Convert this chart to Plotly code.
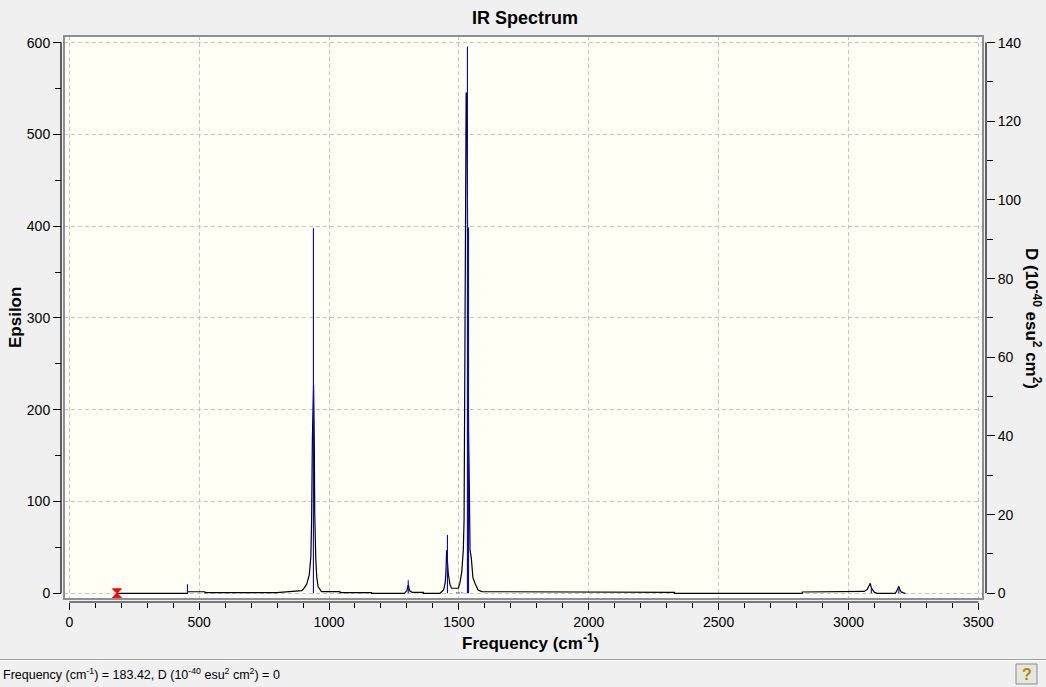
import plotly.graph_objects as go

# ---- data ----
curve_freq = [183, 455, 455.5, 522, 522.5, 645, 645.5, 798, 798.5, 895, 905, 914, 924, 930, 933, 936, 939, 940.5, 943,
              944, 945, 949, 953, 958, 965, 971, 1042, 1042.5, 1164, 1164.5, 1290, 1300, 1304, 1306, 1310, 1320,
              1363, 1363.5, 1427, 1437, 1441, 1447, 1450, 1453, 1455, 1457, 1459, 1466, 1472, 1498, 1504, 1511,
              1517, 1520, 1523, 1526, 1528, 1531, 1534, 1537, 1540, 1543, 1548, 1554, 1562, 1574, 1588, 1838,
              1838.5, 2330, 2330.5, 2822, 2822.5, 3060, 3072, 3080, 3084, 3088, 3094, 3100, 3110, 3180, 3185,
              3190, 3194, 3198, 3203, 3212, 3219]
curve_eps = [0, 0, 1.7, 1.7, 0.7, 0.7, 0, 0, 0.7, 3, 6, 10, 20, 40, 80, 170, 227, 227, 174,
             120, 87, 38, 17, 7, 4, 1.8, 1.8, 0.7, 0.7, 0, 0, 3, 8.5, 8.5, 3, 1.1,
             1.1, 0, 0, 2, 3.6, 11, 22, 47, 40, 30, 22, 9, 5.5, 5.5, 11, 23,
             47, 80, 230, 436, 545, 545, 300, 180, 120, 47, 38, 17, 11, 3.6, 1.8, 1.8,
             1.1, 1.1, 0, 0, 1.4, 2, 4, 8, 10.9, 6, 3, 1, 0, 0, 2,
             5, 7.6, 4, 1.5, 0.5, 0]

stick_freq = [455, 940, 1074, 1305, 1456, 1492, 1500, 1512, 1533, 1537, 3088, 3194]
stick_D = [2.3, 92.8, 0.2, 3.3, 14.8, 0.25, 0.25, 0.25, 139, 93, 1.2, 1.1]

sel_freq = [183.42]
sel_D = [0]

x_ticks = [0, 500, 1000, 1500, 2000, 2500, 3000, 3500]
eps_ticks = [0, 100, 200, 300, 400, 500, 600]
d_ticks = [0, 20, 40, 60, 80, 100, 120, 140]

# ---- layout helpers (pixel -> paper) ----
W, H = 1046, 687
ML, MR, MT, MB = 61, 60, 36, 85
PW, PH = W - ML - MR, H - MT - MB


def px(x):
    return (x - ML) / PW


def py(y):
    return (H - MB - y) / PH


stick_x, stick_y = [], []
for f, d in zip(stick_freq, stick_D):
    stick_x += [f, f, None]
    stick_y += [0, d, None]

fig = go.Figure()
fig.add_trace(go.Scatter(x=curve_freq, y=curve_eps, mode="lines",
                         line=dict(color="black", width=1.2), yaxis="y", hoverinfo="skip"))
fig.add_trace(go.Scatter(x=stick_x, y=stick_y, mode="lines",
                         line=dict(color="#0000ff", width=1.1), yaxis="y2", hoverinfo="skip"))
fig.add_trace(go.Scatter(x=sel_freq, y=sel_D, mode="markers", yaxis="y2",
                         marker=dict(symbol="hourglass", size=9, color="#ff0000",
                                     line=dict(color="#ff0000", width=1))))

tickfont = dict(family="Liberation Sans, Arial, sans-serif", size=14, color="black")
gridcol = "#c4c4c4"

fig.update_layout(
    width=W, height=H,
    margin=dict(l=ML, r=MR, t=MT, b=MB),
    paper_bgcolor="#f0f0f0",
    plot_bgcolor="#fffff6",
    showlegend=False,
    font=dict(family="Liberation Sans, Arial, sans-serif", color="black"),
    title=dict(text="<b>IR Spectrum</b>", x=525 / W, xref="container", xanchor="center",
               y=1 - 18 / H, yref="container", yanchor="middle",
               font=dict(size=18, color="black", family="Liberation Sans, Arial, sans-serif")),
    xaxis=dict(domain=[px(64), px(983)], anchor="free", position=0,
               range=[-20.4, 3518], tickvals=x_ticks, ticks="outside", ticklen=7, tickwidth=1,
               tickcolor="black", showline=False, zeroline=False,
               showgrid=True, gridcolor=gridcol, griddash="4px,3px", gridwidth=1,
               minor=dict(dtick=100, tick0=0, ticks="outside", ticklen=5, tickwidth=1,
                          tickcolor="black", showgrid=False),
               tickfont=tickfont),
    yaxis=dict(domain=[py(599), 1], anchor="free", position=0,
               range=[-6.2, 607.2], tickvals=eps_ticks, ticks="outside", ticklen=8, tickwidth=1,
               tickcolor="black", showline=False, zeroline=False,
               showgrid=True, gridcolor=gridcol, griddash="4px,3px", gridwidth=1,
               minor=dict(dtick=50, tick0=0, ticks="outside", ticklen=6, tickwidth=1,
                          tickcolor="black", showgrid=False),
               tickfont=tickfont),
    yaxis2=dict(overlaying="y", side="right", anchor="free", position=1,
                range=[-6.2 * 140 / 600, 607.2 * 140 / 600], tickvals=d_ticks,
                ticks="outside", ticklen=8, tickwidth=1, tickcolor="black",
                showline=False, zeroline=False, showgrid=False,
                minor=dict(dtick=10, tick0=0, ticks="outside", ticklen=6, tickwidth=1,
                           tickcolor="black", showgrid=False),
                tickfont=tickfont),
)

shapes = [
    # plot frame
    dict(type="rect", xref="paper", yref="paper", x0=px(64), x1=px(983), y0=py(599), y1=1,
         line=dict(color="#8c9096", width=2), layer="above"),
    # axis lines (span only the tick range)
    dict(type="line", xref="paper", yref="y", x0=0, x1=0, y0=eps_ticks[0], y1=eps_ticks[-1],
         line=dict(color="black", width=1.2)),
    dict(type="line", xref="paper", yref="y2", x0=1, x1=1, y0=d_ticks[0], y1=d_ticks[-1],
         line=dict(color="black", width=1.2)),
    dict(type="line", xref="x", yref="paper", x0=x_ticks[0], x1=x_ticks[-1], y0=0, y1=0,
         line=dict(color="black", width=1.2)),
    # status bar separator
    dict(type="line", xref="paper", yref="paper", x0=px(0), x1=px(W), y0=py(659.5), y1=py(659.5),
         line=dict(color="#a0a0a0", width=1)),
    dict(type="line", xref="paper", yref="paper", x0=px(0), x1=px(W), y0=py(660.5), y1=py(660.5),
         line=dict(color="#ffffff", width=1)),
    # help button
    dict(type="rect", xref="paper", yref="paper", x0=px(1016), x1=px(1037), y0=py(684), y1=py(664),
         line=dict(color="#8a8a8a", width=1), fillcolor="#e6e6e0"),
]
fig.update_layout(shapes=shapes)

annotations = [
    dict(text="<b>Frequency (cm<sup>-1</sup>)</b>", xref="paper", yref="paper",
         x=px(530), y=py(642), xanchor="center", yanchor="middle", showarrow=False,
         font=dict(size=17, color="black")),
    dict(text="<b>Epsilon</b>", xref="paper", yref="paper", textangle=-90,
         x=px(15), y=py(318), xanchor="center", yanchor="middle", showarrow=False,
         font=dict(size=17, color="black")),
    dict(text="<b>D (10<sup>-40</sup> esu<sup>2</sup> cm<sup>2</sup>)</b>", xref="paper", yref="paper",
         textangle=90, x=px(1033), y=py(318), xanchor="center", yanchor="middle", showarrow=False,
         font=dict(size=17, color="black")),
    dict(text="Frequency (cm<sup>-1</sup>) = 183.42, D (10<sup>-40</sup> esu<sup>2</sup> cm<sup>2</sup>) = 0",
         xref="paper", yref="paper", x=px(1), y=py(674), xanchor="left", yanchor="middle",
         showarrow=False, font=dict(size=12.5, color="black")),
    dict(text="<b>?</b>", xref="paper", yref="paper", x=px(1026.5), y=py(674),
         xanchor="center", yanchor="middle", showarrow=False,
         font=dict(size=16, color="#b08800")),
]
fig.update_layout(annotations=annotations)

fig.write_html("out.html", config=dict(displayModeBar=False),
               post_script="document.body.style.margin='0';document.body.style.padding='0';"
                           "document.body.style.overflow='hidden';")
